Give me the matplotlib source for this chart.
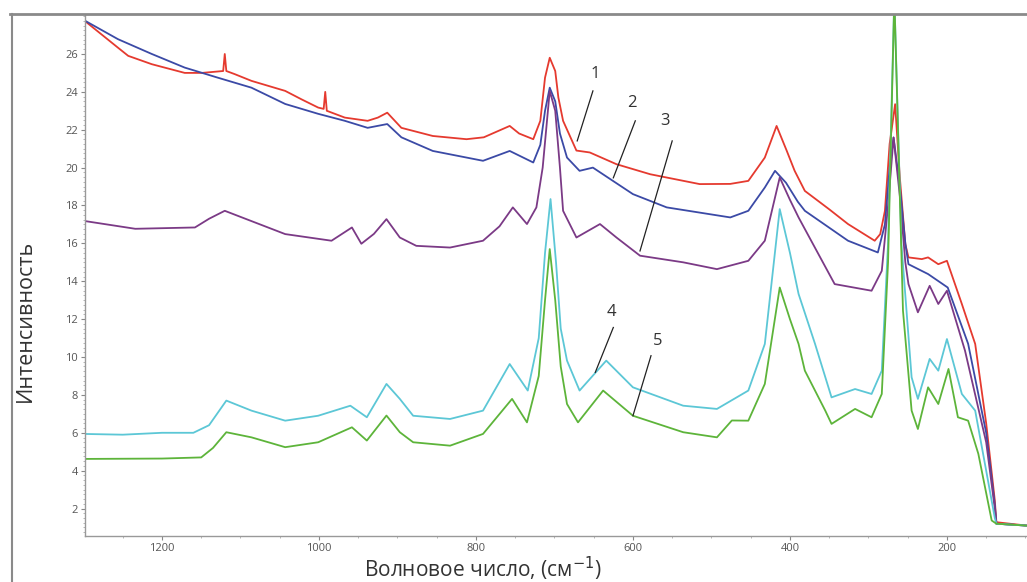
import matplotlib
matplotlib.use("Agg")
import matplotlib.pyplot as plt
from matplotlib.lines import Line2D
from matplotlib.ticker import MultipleLocator

# spectrum 1 (red)
wn_1 = [1300, 1256, 1243, 1213, 1171, 1149, 1122, 1120, 1118, 1107, 1086, 1043, 1022, 1001,
        994, 992, 990, 967, 938, 925, 913, 895, 855, 812, 790, 757, 745, 727, 718, 712, 706,
        699, 695, 689, 672, 655, 621, 578, 515, 476, 453, 432, 417, 404, 394, 381, 350, 326,
        292, 285, 279, 273, 266, 260, 253, 249, 232, 224, 211, 200, 181, 164, 150, 139, 137,
        120, 98]
int_1 = [27.8, 26.33, 25.9, 25.46, 25.0, 25.0, 25.1, 26.0, 25.1, 24.93, 24.58, 24.05, 23.6, 23.17,
         23.1, 24.0, 23.0, 22.64, 22.47, 22.64, 22.9, 22.1, 21.67, 21.5, 21.6, 22.2, 21.8, 21.5, 22.47,
         24.75, 25.8, 25.1, 23.7, 22.47, 20.9, 20.8, 20.18, 19.65, 19.13, 19.14, 19.3, 20.53, 22.2,
         20.88, 19.83, 18.77, 17.8, 17.02, 16.14, 16.49, 17.72, 21.25, 23.35, 19.48, 15.96, 15.26,
         15.17, 15.26, 14.9, 15.08, 12.8, 10.69, 6.5, 2.42, 1.28, 1.2, 1.1]

# spectrum 2 (blue)
wn_2 = [1300, 1256, 1213, 1171, 1129, 1086, 1043, 1001, 967, 938, 913, 895, 855, 791, 757,
        727, 718, 712, 706, 699, 693, 684, 668, 651, 600, 557, 476, 453, 432, 419, 405, 390,
        381, 326, 288, 279, 273, 268, 260, 253, 249, 224, 199, 173, 150, 139, 137, 98]
int_2 = [27.8, 26.78, 26.0, 25.28, 24.75, 24.22, 23.36, 22.84, 22.47, 22.1, 22.3, 21.6, 20.88,
         20.36, 20.88, 20.27, 21.2, 23.0, 24.22, 23.5, 21.8, 20.53, 19.83, 20.0, 18.6, 17.9, 17.37,
         17.72, 18.95, 19.83, 19.2, 18.2, 17.72, 16.14, 15.52, 17.0, 20.0, 21.59, 19.0, 16.0, 14.9,
         14.38, 13.67, 10.7, 6.0, 2.2, 1.2, 1.1]

# spectrum 3 (purple)
wn_3 = [1300, 1234, 1158, 1140, 1120, 1100, 1043, 984, 958, 946, 930, 914, 897, 876, 833,
        791, 770, 753, 735, 723, 715, 706, 699, 693, 689, 672, 642, 621, 591, 536, 493, 453,
        432, 413, 400, 389, 343, 296, 283, 275, 268, 260, 253, 249, 237, 222, 211, 200, 177,
        150, 139, 137, 98]
int_3 = [17.19, 16.77, 16.84, 17.3, 17.72, 17.4, 16.49, 16.14, 16.84, 15.98, 16.5, 17.28, 16.31,
         15.87, 15.78, 16.14, 16.9, 17.9, 17.02, 17.9, 20.0, 24.05, 23.0, 20.0, 17.72, 16.31,
         17.02, 16.31, 15.35, 15.0, 14.64, 15.08, 16.14, 19.48, 18.3, 17.37, 13.85, 13.5, 14.55,
         18.0, 21.59, 18.5, 15.0, 13.85, 12.36, 13.76, 12.8, 13.5, 10.34, 5.5, 2.0, 1.2, 1.1]

# spectrum 4 (cyan)
wn_4 = [1300, 1250, 1200, 1160, 1140, 1118, 1086, 1043, 1001, 960, 939, 914, 897, 880, 833,
        791, 757, 734, 720, 712, 705, 698, 692, 684, 668, 634, 600, 536, 493, 453, 432, 413,
        400, 389, 368, 347, 317, 296, 283, 275, 267, 258, 245, 237, 222, 211, 200, 181, 164,
        150, 139, 137, 98]
int_4 = [5.94, 5.9, 6.0, 6.0, 6.4, 7.7, 7.17, 6.64, 6.9, 7.43, 6.82, 8.58, 7.79, 6.9, 6.73,
         7.17, 9.63, 8.23, 11.0, 15.5, 18.34, 15.0, 11.5, 9.81, 8.23, 9.81, 8.4, 7.43, 7.26, 8.23,
         10.69, 17.81, 15.5, 13.33, 10.69, 7.87, 8.31, 8.05, 9.28, 16.0, 29.0, 15.96, 8.93, 7.79,
         9.9, 9.28, 10.95, 8.05, 7.17, 4.0, 1.5, 1.2, 1.1]

# spectrum 5 (green)
wn_5 = [1300, 1200, 1150, 1135, 1118, 1086, 1043, 1001, 958, 939, 914, 897, 880, 833, 791,
        754, 735, 720, 712, 706, 699, 692, 684, 670, 638, 600, 536, 493, 474, 453, 432, 413,
        400, 389, 381, 355, 347, 317, 296, 283, 275, 267, 256, 245, 237, 224, 211, 198, 186,
        173, 160, 143, 137, 98]
int_5 = [4.62, 4.64, 4.7, 5.2, 6.03, 5.76, 5.24, 5.5, 6.29, 5.59, 6.91, 6.03, 5.5, 5.32, 5.94,
         7.79, 6.55, 9.0, 13.0, 15.7, 13.0, 9.5, 7.52, 6.55, 8.23, 6.9, 6.03, 5.76, 6.65, 6.64,
         8.58, 13.67, 12.0, 10.69, 9.28, 7.17, 6.47, 7.26, 6.82, 8.05, 15.0, 29.0, 12.45, 7.17,
         6.2, 8.4, 7.52, 9.37, 6.82, 6.64, 4.89, 1.37, 1.2, 1.1]

series = [
    (wn_1, int_1, "#e53a2f"),
    (wn_2, int_2, "#3b4aa6"),
    (wn_3, int_3, "#7b3a86"),
    (wn_4, int_4, "#5cc7d6"),
    (wn_5, int_5, "#5db43a"),
]

# curve labels: (text, text pos, leader line start, leader line end)
labels = [
    ("1", (648, 24.95), (651, 24.05), (671, 21.41)),
    ("2", (601, 23.42), (597, 22.47), (625, 19.46)),
    ("3", (559, 22.47), (550, 21.41), (591, 15.6)),
    ("4", (627, 12.36), (625, 11.56), (648, 9.19)),
    ("5", (568, 10.86), (577, 10.07), (600, 6.9)),
]

plt.rcParams['font.family'] = ['Open Sans', 'DejaVu Sans']

fig = plt.figure(figsize=(10.27, 5.82), dpi=100)
ax = fig.add_axes([0.0828, 0.079, 0.9172, 0.895])

for wn, inten, col in series:
    ax.plot(wn, inten, color=col, lw=1.3)

ax.set_xlim(1298, 98)
ax.set_ylim(0.55, 28.05)

ax.xaxis.set_major_locator(MultipleLocator(200))
ax.xaxis.set_minor_locator(MultipleLocator(50))
ax.yaxis.set_major_locator(MultipleLocator(2))
ax.yaxis.set_minor_locator(MultipleLocator(0.25))
ax.set_yticks(range(2, 28, 2))

for side in ['top', 'right']:
    ax.spines[side].set_visible(False)
for side in ['left', 'bottom']:
    ax.spines[side].set_color('#999999')
    ax.spines[side].set_linewidth(1.0)

ax.tick_params(which='major', length=3, width=0.8, color='#888888', labelsize=8,
               labelcolor='#555555', direction='out', pad=2)
ax.tick_params(which='minor', length=1.5, width=0.6, color='#aaaaaa', direction='out')

ax.set_xlabel('Волновое число, (см$^{-1}$)', fontsize=15, color='#333333')
ax.xaxis.set_label_coords(0.4225, -0.037)
ax.set_ylabel('Интенсивность', fontsize=15.5, color='#333333')
ax.yaxis.set_label_coords(-0.052, 0.413)

for txt, tpos, p0, p1 in labels:
    ax.text(tpos[0], tpos[1], txt, fontsize=12, color='#333333', ha='center', va='center')
    ax.plot([p0[0], p1[0]], [p0[1], p1[1]], color='#222222', lw=0.9)

# outer frame of the original screenshot
fig.add_artist(Line2D([10 / 1027, 1.0], [1 - 14 / 582, 1 - 14 / 582],
                      transform=fig.transFigure, color='#8a8a8a', lw=2))
fig.add_artist(Line2D([12 / 1027, 12 / 1027], [0, 1 - 14 / 582],
                      transform=fig.transFigure, color='#8a8a8a', lw=1.5))

fig.savefig('out.png', dpi=100)
